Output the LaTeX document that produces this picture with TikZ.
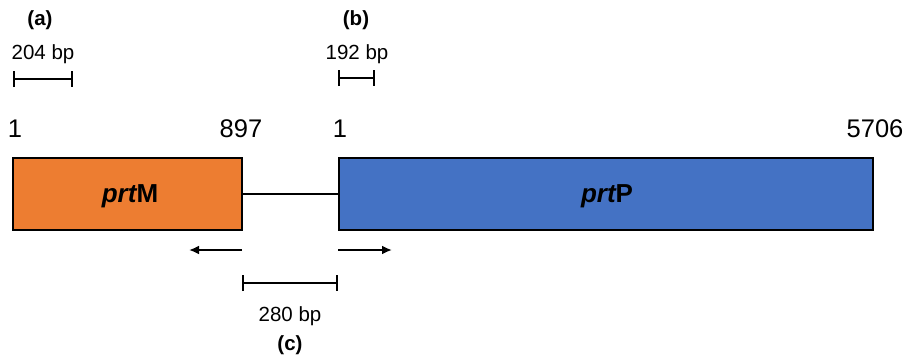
\documentclass[tikz,border=0pt]{standalone}
\usepackage{fontspec}
\setmainfont{Liberation Sans}
\usetikzlibrary{arrows.meta}
\definecolor{orangebox}{HTML}{ED7D31}
\definecolor{bluebox}{HTML}{4472C4}
\tikzset{
  genebox/.style={draw=black, line width=2pt, inner sep=0pt, minimum height=72pt},
  numlbl/.style={font=\fontsize{25.5}{28}\selectfont, anchor=base, inner sep=0pt},
  bplbl/.style={font=\fontsize{20.5}{24}\selectfont, anchor=base, inner sep=0pt},
  panellbl/.style={font=\bfseries\fontsize{20.5}{24}\selectfont, anchor=base, inner sep=0pt},
  genelbl/.style={font=\bfseries\fontsize{26}{30}\selectfont, anchor=base, inner sep=0pt},
  scalebar/.style={line width=2pt, {Bar[width=16pt,line width=2pt]}-{Bar[width=16pt,line width=2pt]}},
  dirarrow/.style={line width=2.2pt, -{Latex[length=10pt,width=9pt]}},
  link/.style={line width=2pt}
}
\begin{document}
\begin{tikzpicture}[x=1pt,y=-1pt]
\useasboundingbox (0,0) rectangle (907,357);
% gene boxes
\node[genebox, fill=orangebox, minimum width=229pt] (prtM) at (127.5,194) {};
\node[genebox, fill=bluebox, minimum width=534pt] (prtP) at (606,194) {};
\draw[link] (prtM.east) -- (prtP.west);
% gene labels
\node[genelbl] (lM) at (130,202) {\itshape prt\upshape M};
\node[genelbl] (lP) at (607,202) {\itshape prt\upshape P};
% coordinates labels
\node[numlbl] (n1a) at (15,137) {1};
\node[numlbl] (n897) at (241,137) {897};
\node[numlbl] (n1b) at (340,137) {1};
\node[numlbl] (n5706) at (875,137) {5706};
% panel labels
\node[panellbl] (pa) at (40,25) {(a)};
\node[panellbl] (pb) at (356,25) {(b)};
\node[panellbl] (pc) at (290,350) {(c)};
% scale bars
\coordinate (a1) at (13,79);
\coordinate (a2) at (73,79);
\draw[scalebar] (a1) -- (a2);
\node[bplbl] (ta) at (43,59.5) {204 bp};
\coordinate (b1) at (338,78);
\coordinate (b2) at (375,78);
\draw[scalebar] (b1) -- (b2);
\node[bplbl] (tb) at (357,59.5) {192 bp};
\coordinate (c1) at (242,283);
\coordinate (c2) at (338,283);
\draw[scalebar] (c1) -- (c2);
\node[bplbl] (tc) at (290,321) {280 bp};
% direction arrows
\coordinate (la1) at (242,250);
\coordinate (la2) at (189,250);
\draw[dirarrow] (la1) -- (la2);
\coordinate (ra1) at (338,250);
\coordinate (ra2) at (392,250);
\draw[dirarrow] (ra1) -- (ra2);
\end{tikzpicture}
\end{document}
